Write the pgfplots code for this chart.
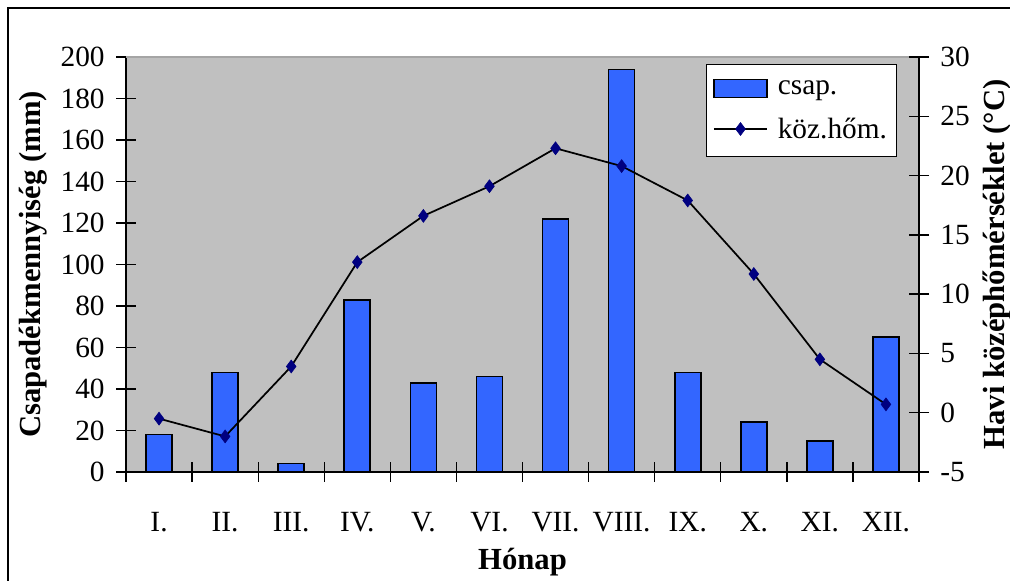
\documentclass[border=0pt]{standalone}
\usepackage{fontspec}
\setmainfont{Liberation Serif}
\usepackage{pgfplots}
\pgfplotsset{compat=1.18}
\usepackage{pgfplotstable}
\definecolor{barblue}{RGB}{51,102,255}
\definecolor{navy}{RGB}{0,0,128}
\definecolor{plotgray}{RGB}{192,192,192}
\pgfplotsset{
  dlegend/.style={legend image code/.code={\path[draw=none,fill=none] (0pt,0pt) -- (46pt,0pt);\draw[mark repeat=2,mark phase=2,##1] plot coordinates {(0pt,0pt) (20pt,0pt) (40pt,0pt)};}},
  blegend/.style={legend image code/.code={\path[draw=none,fill=none] (0pt,0pt) -- (46pt,0pt);\draw[fill=barblue, draw=black, line width=1.2pt] (0pt,-6.75pt) rectangle (40pt,6.75pt);}},
}
\pgfplotstableread{
x csap
0 18
1 48
2 4
3 83
4 43
5 46
6 122
7 194
8 48
9 24
10 15
11 65
}\csaptable
\pgfplotstableread{
x hom
0 -0.5
1 -2.0
2 3.9
3 12.7
4 16.6
5 19.1
6 22.3
7 20.8
8 17.9
9 11.7
10 4.5
11 0.7
}\homtable
\begin{document}
\begin{tikzpicture}
\useasboundingbox (-94.5pt,-81.75pt) rectangle (663pt,354pt);
\draw[line width=0.9pt] (-88.5pt,-81.75pt) -- (-88.5pt,348pt) -- (663pt,348pt);
\pgfplotsset{
  common/.style={
    at={(0,0)}, anchor=south west, scale only axis,
    width=594.75pt, height=311.25pt,
    xmin=-0.5, xmax=11.5,
    tick align=center,
    major tick length=15pt, minor tick length=15pt,
    tick style={black, line width=1pt},
    axis line style={black, line width=1.1pt},
    tick label style={font=\fontsize{22}{26}\selectfont},
    label style={font=\fontsize{23}{28}\selectfont\bfseries},
    /pgf/number format/assume math mode=true,
  }
}
\begin{axis}[common,
  ymin=0, ymax=200,
  axis background/.style={fill=plotgray},
  axis x line*=bottom, axis y line*=left,
  xtick={0,...,11},
  xticklabels={I.,II.,III.,IV.,V.,VI.,VII.,VIII.,IX.,X.,XI.,XII.},
  major x tick style={draw=none},
  minor xtick={-0.5,0.5,...,11.5},
  xticklabel style={yshift=-19pt},
  ytick={0,20,...,200},
  yticklabel style={xshift=-5pt},
  xlabel={Hónap},
  xlabel style={at={(axis description cs:0.5,-0.217)}, anchor=center},
  ylabel={Csapadékmennyiség (mm)},
  ylabel style={at={(axis description cs:-0.117,0.5)}, anchor=center},
]
\addplot[ybar, bar width=19.5pt, fill=barblue, draw=black, line width=1.2pt] table[x=x, y=csap] {\csaptable};
\draw[color={rgb,255:red,165;green,165;blue,165}, line width=1pt] (rel axis cs:0,1) -- (rel axis cs:1,1);
\end{axis}
\begin{axis}[common,
  ymin=-5, ymax=30,
  axis x line=none, axis y line*=right,
  ytick={-5,0,...,30},
  yticklabel style={xshift=5pt},
  ylabel={Havi középhőmérséklet (°C)},
  ylabel style={at={(axis description cs:1.098,0.5)}, anchor=center},
  legend style={at={(0.731,0.983)}, anchor=north west, draw=black, line width=0.9pt, fill=white,
    font=\fontsize{22}{26}\selectfont, row sep=12pt, inner xsep=5pt, inner ysep=10pt,
    cells={anchor=west}},
]
\addlegendimage{blegend}
\addlegendentry{csap.}
\addplot[black, line width=1.3pt, mark=diamond*, mark size=4.8pt, mark options={fill=navy, draw=navy, line width=0.5pt}, dlegend]
  table[x=x, y=hom] {\homtable};
\addlegendentry{köz.hőm.}
\end{axis}
\end{tikzpicture}
\end{document}
